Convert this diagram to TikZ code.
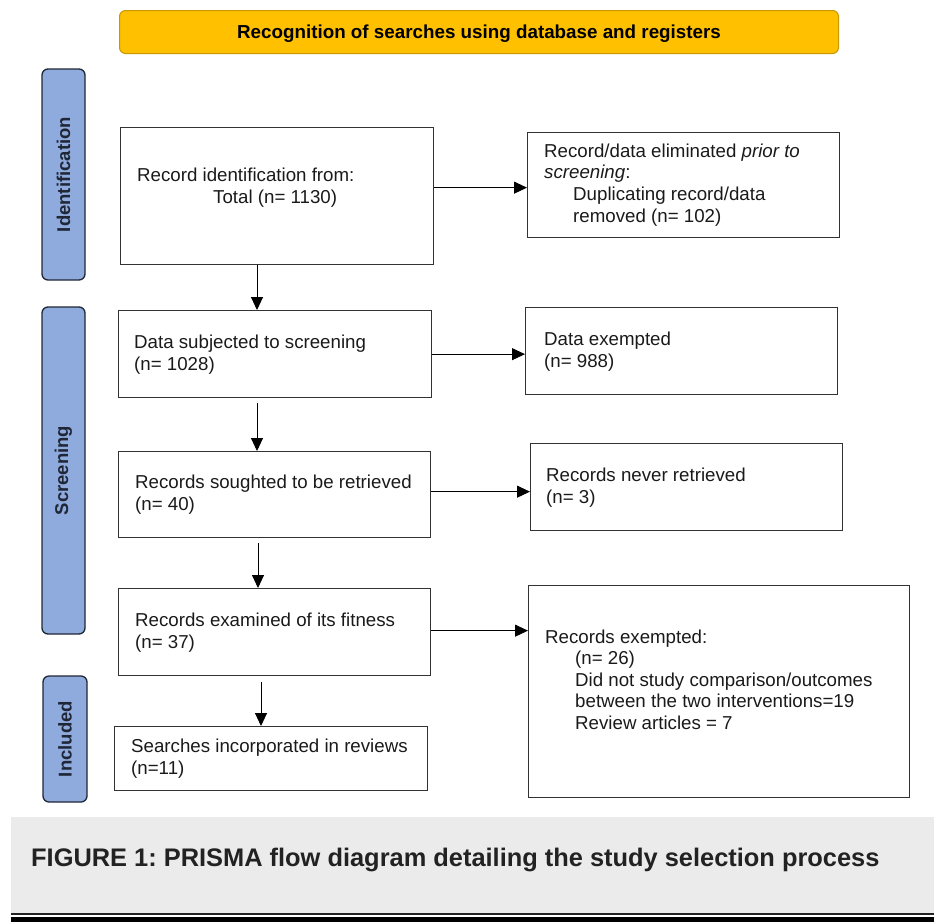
\documentclass[tikz,border=0pt]{standalone}
\usepackage{fontspec}
\setmainfont{Liberation Sans}
\usetikzlibrary{arrows.meta,calc}
\definecolor{bannerfill}{HTML}{FFC000}
\definecolor{bannerdraw}{HTML}{C99700}
\definecolor{sidefill}{HTML}{8FAADC}
\definecolor{sidedraw}{HTML}{1F2636}
\definecolor{boxdraw}{HTML}{333333}
\definecolor{captionbg}{HTML}{EBEBEB}
\definecolor{captiontext}{HTML}{222222}
\definecolor{bodytext}{HTML}{1A1A1A}
\frenchspacing
\begin{document}
\begin{tikzpicture}[x=1pt,y=-1pt,
  box/.style={draw=boxdraw,line width=1.3pt,rectangle,inner sep=0pt,anchor=north west},
  banner/.style={draw=bannerdraw,line width=1pt,fill=bannerfill,rounded corners=6pt,inner sep=0pt,anchor=north west,
    font=\fontsize{18.8}{21.5}\selectfont\bfseries,text=black},
  side/.style={draw=sidedraw,line width=1.3pt,fill=sidefill,rounded corners=6pt,inner sep=0pt,rotate=90,
    font=\fontsize{18.5}{21.5}\selectfont\bfseries,text=sidedraw},
  txt/.style={inner sep=0pt,anchor=base west,align=left,text=bodytext,
    font=\fontsize{18.7}{21.6}\selectfont},
  arr/.style={draw=black,line width=0.9pt,-{Triangle[length=13pt,width=12pt]}}]
\useasboundingbox (0,0) rectangle (934,922);

% banner
\node[banner,minimum width=719pt,minimum height=43pt,text depth=1pt] (top) at (119,10) {Recognition of searches using database and registers};

% side labels
\node[side,minimum width=211pt,minimum height=43pt] (sid) at (63.5,174.5) {Identification};
\node[side,minimum width=327pt,minimum height=43pt] (sscr) at (63.5,470.5) {Screening};
\node[side,minimum width=126pt,minimum height=44pt] (sinc) at (65,739) {Included};

% left boxes
\node[box,minimum width=313pt,minimum height=137pt] (b1) at (120,127) {};
\node[box,minimum width=313pt,minimum height=87pt] (b2) at (118,310) {};
\node[box,minimum width=312pt,minimum height=86pt] (b3) at (118,451) {};
\node[box,minimum width=312pt,minimum height=87pt] (b4) at (118,588) {};
\node[box,minimum width=313pt,minimum height=64pt] (b5) at (114,726) {};

% right boxes
\node[box,minimum width=312pt,minimum height=105pt] (r1) at (527,132) {};
\node[box,minimum width=312pt,minimum height=87pt] (r2) at (525,307) {};
\node[box,minimum width=312pt,minimum height=87pt] (r3) at (530,443) {};
\node[box,minimum width=381pt,minimum height=212pt] (r4) at (528,585) {};

% texts (anchor = baseline of last line)
\node[txt] (t1) at (137,203) {Record identification from:\\\hspace*{76pt}Total (n= 1130)};
\node[txt] (t2) at (134,370) {Data subjected to screening\\(n= 1028)};
\node[txt] (t3) at (135,510.5) {Records soughted to be retrieved\\(n= 40)};
\node[txt] (t4) at (135,648.5) {Records examined of its fitness\\(n= 37)};
\node[txt] (t5) at (131,774.5) {Searches incorporated in reviews\\(n=11)};

\node[txt] (u1) at (544,222) {Record/data eliminated \textit{prior to}\\\textit{screening}:\\\hspace*{29pt}Duplicating record/data\\\hspace*{29pt}removed (n= 102)};
\node[txt] (u2) at (544,367.5) {Data exempted\\(n= 988)};
\node[txt] (u3) at (546,503.5) {Records never retrieved\\(n= 3)};
\node[txt] (u4) at (545,729.5) {Records exempted:\\\hspace*{30pt}(n= 26)\\\hspace*{30pt}Did not study comparison/outcomes\\\hspace*{30pt}between the two interventions=19\\\hspace*{30pt}Review articles = 7};

% vertical arrows
\coordinate (d1) at ([xshift=137pt]b1.south west);
\coordinate (d2) at ([xshift=139pt]b2.south west);
\coordinate (d3) at ([xshift=140pt]b3.south west);
\coordinate (d4) at ([xshift=143pt]b4.south west);
\draw[arr] (d1) -- (d1 |- b2.north);
\draw[arr,shorten <=5pt] (d2) -- (d2 |- b3.north);
\draw[arr,shorten <=5pt] (d3) -- (d3 |- b4.north);
\draw[arr,shorten <=6pt] (d4) -- (d4 |- b5.north);

% horizontal arrows
\coordinate (h1) at ([yshift=8.5pt]b1.east);
\coordinate (h3) at ([yshift=3pt]b3.east);
\coordinate (h4) at ([yshift=1.5pt]b4.east);
\draw[arr] (h1) -- (r1.west |- h1);
\draw[arr] (b2.east) -- (r2.west |- b2.east);
\draw[arr] (h3) -- (r3.west |- h3);
\draw[arr] (h4) -- (r4.west |- h4);

% caption
\fill[captionbg] (11,817) rectangle (934,913);
\fill[captiontext] (11,913) rectangle (934,915);
\fill[black] (11,917.3) rectangle (934,922);
\node[inner sep=0pt,anchor=base west,text=captiontext,font=\fontsize{25.4}{30}\selectfont\bfseries] (cap) at (31,866) {FIGURE 1: PRISMA flow diagram detailing the study selection process};
\end{tikzpicture}
\end{document}
